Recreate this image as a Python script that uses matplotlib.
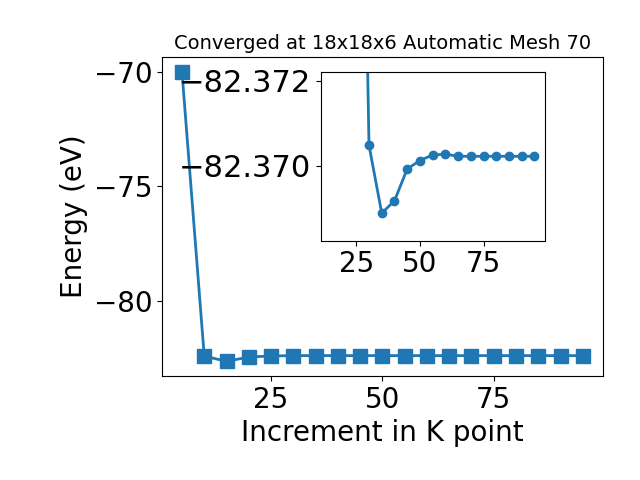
import matplotlib
matplotlib.use('Agg')
import matplotlib.pyplot as plt

kpoints = [5, 10, 15, 20, 25, 30, 35, 40, 45, 50, 55, 60, 65, 70, 75, 80, 85, 90, 95]
energy = [-70.0, -82.39, -82.62, -82.43, -82.387, -82.37048, -82.36888, -82.36917,
          -82.36992, -82.37012, -82.37025, -82.37027, -82.37022, -82.37022,
          -82.37022, -82.37022, -82.37022, -82.37022, -82.37022]

fig = plt.figure(figsize=(6.4, 4.8), dpi=100)
ax = fig.add_axes([0.253, 0.217, 0.689, 0.664])
ax.plot(kpoints, energy, linewidth=2, marker='s', markersize=10)
ax.set_xlabel("Increment in K point", fontsize=20)
ax.set_ylabel("Energy (eV)", fontsize=20)
ax.set_title("Converged at 18x18x6 Automatic Mesh 70", fontsize=14)
ax.set_xticks([25, 50, 75])
ax.tick_params(labelsize=20)

# zoomed view of the converged part
ins = fig.add_axes([0.501, 0.4985, 0.35, 0.351])
ins.plot(kpoints[2:], energy[2:], linewidth=2, marker='o', markersize=6)
ins.set_ylim(-82.36823, -82.3722)
ins.set_xticks([25, 50, 75])
ins.set_yticks([-82.372, -82.370])
ins.ticklabel_format(axis='y', useOffset=False)
ins.tick_params(axis='y', labelsize=22)
ins.tick_params(axis='x', labelsize=20)

fig.savefig('out.png')
